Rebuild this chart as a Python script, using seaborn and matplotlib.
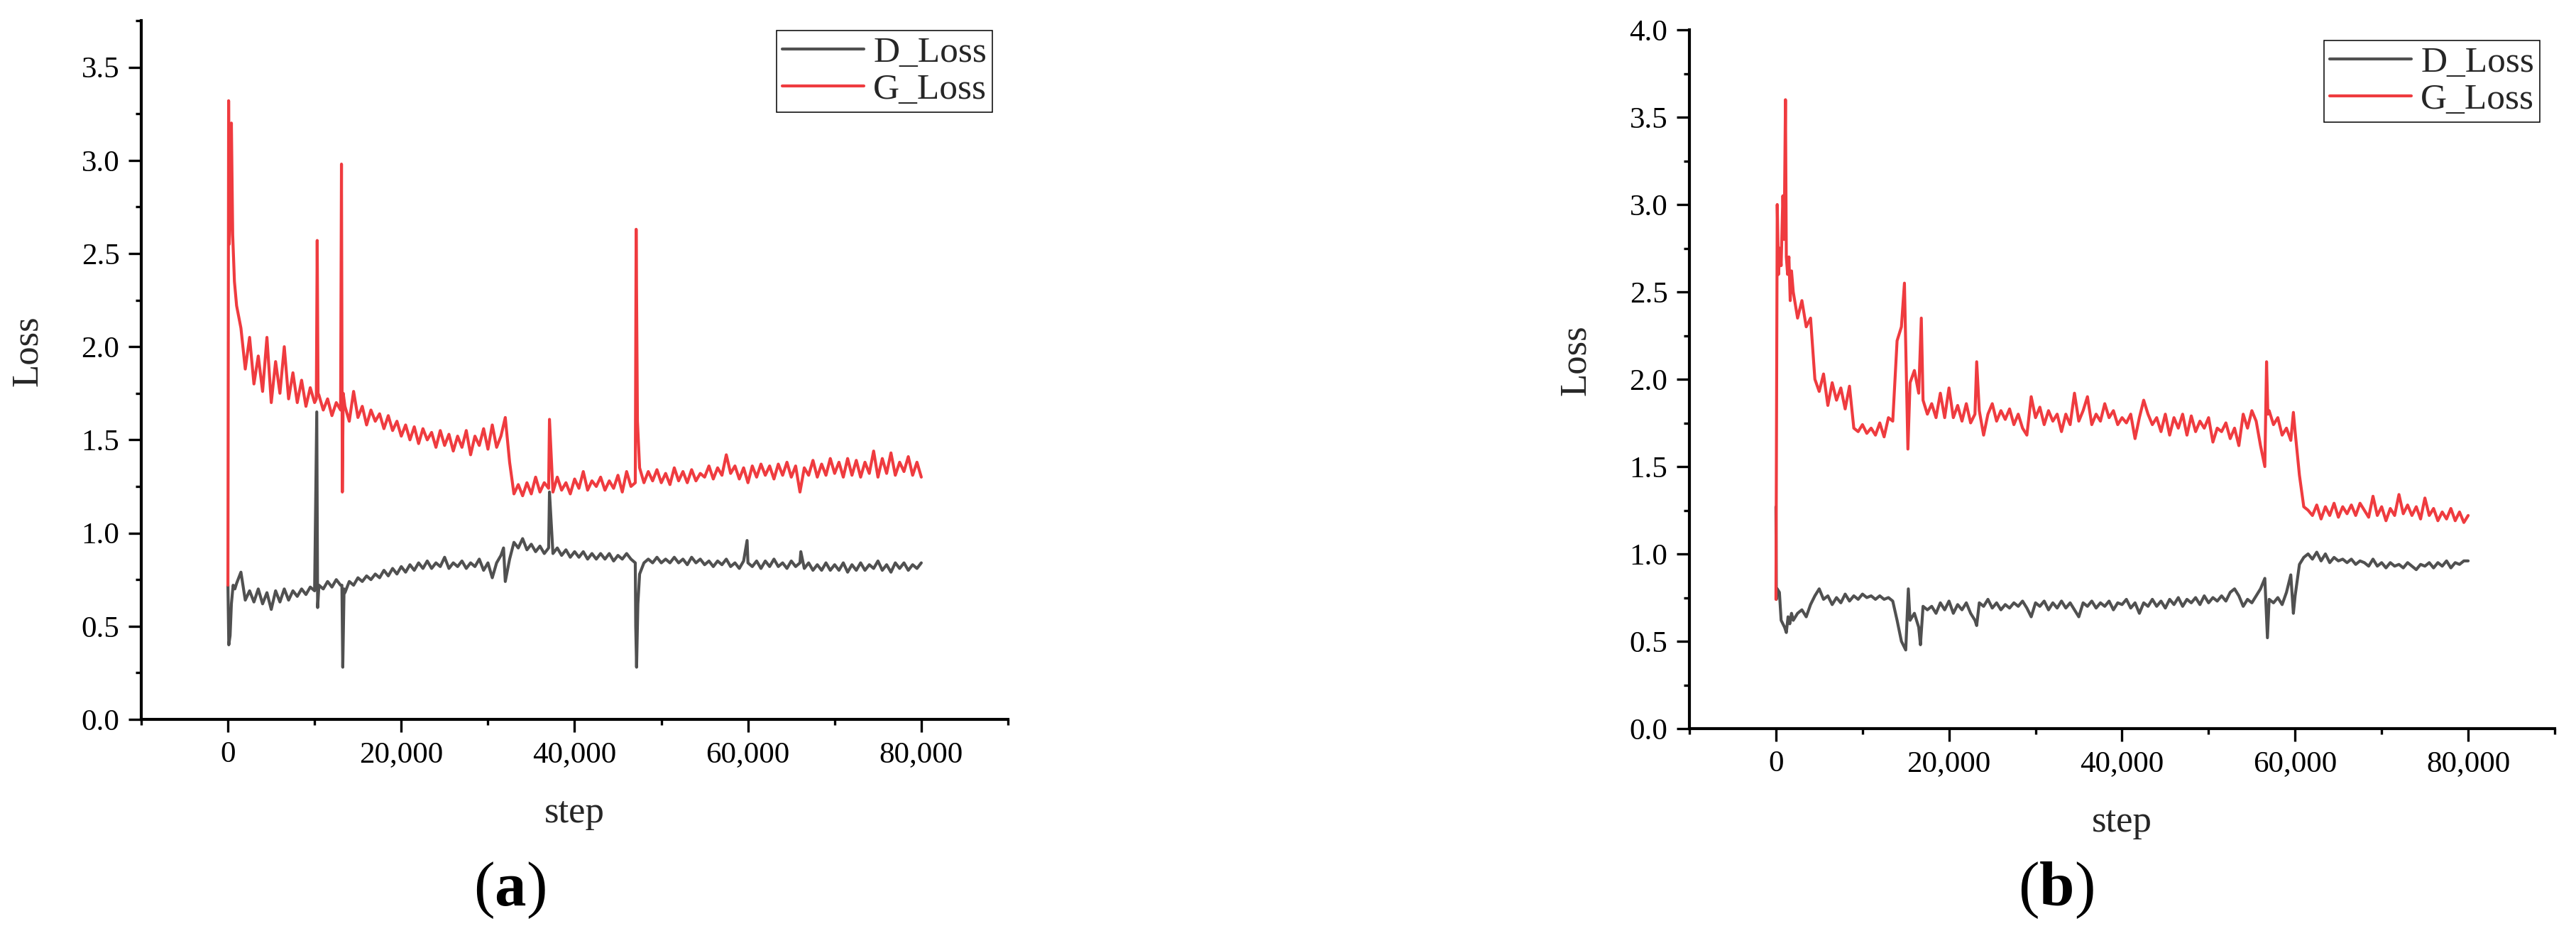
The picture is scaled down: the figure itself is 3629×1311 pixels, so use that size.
import numpy as np
import pandas as pd
import matplotlib
matplotlib.use("Agg")
import matplotlib.pyplot as plt
from matplotlib.lines import Line2D
from matplotlib.ticker import MultipleLocator, FuncFormatter
import seaborn as sns

# ---------------- data ----------------
SERIES = ["D_Loss", "G_Loss"]
COLORS = {"D_Loss": "#505050", "G_Loss": "#ef3b3f"}
PANEL_LABELS = ["a", "b"]
X_TICKS = [0, 20000, 40000, 60000, 80000]

# ----- panel (a) -----
a_grid_start = 1000   # regular 500-step samples from here to 80,000
a_G_grid = [
    2.22, 2.10, 1.88, 2.05, 1.80, 1.95, 1.76, 2.05, 1.70, 1.92,
    1.75, 2.00, 1.72, 1.86, 1.70, 1.82, 1.68, 1.78, 1.70, 1.74,
    1.66, 1.72, 1.63, 1.70, 1.66, 1.68, 1.60, 1.76, 1.62, 1.68,
    1.58, 1.66, 1.60, 1.64, 1.56, 1.63, 1.55, 1.60, 1.52, 1.58,
    1.50, 1.57, 1.48, 1.56, 1.50, 1.54, 1.46, 1.55, 1.47, 1.53,
    1.44, 1.52, 1.46, 1.55, 1.42, 1.52, 1.47, 1.56, 1.45, 1.58,
    1.46, 1.52, 1.62, 1.38, 1.21, 1.26, 1.20, 1.27, 1.21, 1.30,
    1.22, 1.27, 1.24, 1.22, 1.30, 1.23, 1.27, 1.21, 1.29, 1.24,
    1.33, 1.23, 1.28, 1.25, 1.30, 1.23, 1.28, 1.24, 1.31, 1.22,
    1.33, 1.25, 1.27, 1.35, 1.27, 1.33, 1.28, 1.34, 1.27, 1.32,
    1.26, 1.35, 1.28, 1.33, 1.27, 1.34, 1.28, 1.32, 1.30, 1.36,
    1.29, 1.35, 1.31, 1.42, 1.32, 1.36, 1.29, 1.35, 1.27, 1.36,
    1.30, 1.37, 1.31, 1.36, 1.29, 1.37, 1.31, 1.38, 1.30, 1.36,
    1.22, 1.35, 1.31, 1.39, 1.30, 1.37, 1.31, 1.40, 1.32, 1.38,
    1.30, 1.40, 1.31, 1.39, 1.30, 1.38, 1.32, 1.44, 1.30, 1.40,
    1.32, 1.43, 1.31, 1.38, 1.33, 1.41, 1.31, 1.38, 1.30,
]
a_D_grid = [
    0.73, 0.79, 0.64, 0.69, 0.63, 0.70, 0.62, 0.68, 0.59, 0.69,
    0.63, 0.70, 0.64, 0.69, 0.66, 0.70, 0.67, 0.71, 0.69, 0.72,
    0.70, 0.74, 0.71, 0.75, 0.72, 0.68, 0.74, 0.72, 0.76, 0.74,
    0.77, 0.75, 0.78, 0.76, 0.80, 0.77, 0.81, 0.78, 0.82, 0.79,
    0.83, 0.80, 0.84, 0.81, 0.85, 0.81, 0.84, 0.82, 0.87, 0.81,
    0.84, 0.82, 0.85, 0.81, 0.84, 0.82, 0.86, 0.80, 0.84, 0.76,
    0.84, 0.88, 0.74, 0.86, 0.95, 0.92, 0.97, 0.91, 0.94, 0.90,
    0.93, 0.89, 0.92, 0.89, 0.92, 0.88, 0.91, 0.87, 0.90, 0.87,
    0.90, 0.86, 0.89, 0.86, 0.89, 0.86, 0.89, 0.85, 0.88, 0.86,
    0.89, 0.86, 0.84, 0.78, 0.84, 0.86, 0.84, 0.87, 0.84, 0.86,
    0.84, 0.87, 0.84, 0.86, 0.83, 0.87, 0.84, 0.86, 0.83, 0.85,
    0.82, 0.85, 0.83, 0.86, 0.82, 0.84, 0.81, 0.85, 0.84, 0.82,
    0.85, 0.81, 0.85, 0.82, 0.86, 0.82, 0.84, 0.81, 0.85, 0.82,
    0.84, 0.81, 0.84, 0.80, 0.83, 0.80, 0.84, 0.80, 0.83, 0.80,
    0.84, 0.79, 0.83, 0.80, 0.84, 0.80, 0.83, 0.81, 0.85, 0.80,
    0.83, 0.79, 0.84, 0.81, 0.84, 0.80, 0.83, 0.81, 0.84,
]
# start-up and spike samples (irregular steps)
a_G_extra_steps = [0, 80, 150, 250, 400, 550, 750,
                   10200, 10300, 10400, 13100, 13200, 13300,
                   37100, 47050, 47100, 47250]
a_G_extra_vals = [0.72, 3.32, 2.55, 2.70, 3.20, 2.60, 2.35,
                  1.72, 2.57, 1.75, 2.98, 1.22, 1.75,
                  1.61, 2.00, 2.63, 1.60]
a_D_extra_steps = [0, 100, 250, 400, 600, 800,
                   10250, 10350, 13150, 13250, 13400, 31800,
                   37100, 47050, 47150, 47300, 59900, 66100]
a_D_extra_vals = [0.72, 0.40, 0.45, 0.62, 0.72, 0.70,
                  1.65, 0.60, 0.72, 0.28, 0.70, 0.92,
                  1.22, 0.50, 0.28, 0.62, 0.96, 0.90]

# ----- panel (b) -----
b_grid_start = 2000
b_G_grid = [
    2.50, 2.35, 2.45, 2.30, 2.35, 2.00, 1.93, 2.03, 1.85, 1.98,
    1.88, 1.95, 1.83, 1.96, 1.72, 1.70, 1.74, 1.69, 1.72, 1.68,
    1.75, 1.67, 1.78, 1.76, 2.22, 2.30, 2.20, 1.98, 2.05, 1.92,
    1.88, 1.80, 1.86, 1.78, 1.92, 1.78, 1.95, 1.78, 1.85, 1.76,
    1.86, 1.75, 1.80, 1.82, 1.68, 1.80, 1.86, 1.76, 1.82, 1.77,
    1.83, 1.74, 1.80, 1.72, 1.68, 1.90, 1.78, 1.84, 1.74, 1.82,
    1.76, 1.80, 1.70, 1.80, 1.74, 1.92, 1.76, 1.82, 1.90, 1.74,
    1.80, 1.76, 1.86, 1.78, 1.82, 1.74, 1.78, 1.75, 1.80, 1.66,
    1.78, 1.88, 1.80, 1.74, 1.78, 1.70, 1.80, 1.68, 1.78, 1.72,
    1.80, 1.68, 1.79, 1.70, 1.76, 1.72, 1.78, 1.64, 1.72, 1.70,
    1.75, 1.66, 1.72, 1.62, 1.80, 1.72, 1.82, 1.76, 1.62, 1.50,
    1.82, 1.74, 1.78, 1.68, 1.72, 1.65, 1.70, 1.45, 1.27, 1.25,
    1.22, 1.28, 1.20, 1.27, 1.22, 1.29, 1.21, 1.27, 1.23, 1.28,
    1.22, 1.29, 1.25, 1.21, 1.33, 1.22, 1.27, 1.19, 1.26, 1.22,
    1.34, 1.23, 1.28, 1.22, 1.27, 1.20, 1.32, 1.22, 1.26, 1.19,
    1.24, 1.20, 1.26, 1.19, 1.24, 1.18, 1.22,
]
b_D_grid = [
    0.62, 0.66, 0.68, 0.64, 0.71, 0.76, 0.80, 0.74, 0.76, 0.71,
    0.75, 0.72, 0.77, 0.73, 0.76, 0.74, 0.77, 0.75, 0.76, 0.74,
    0.76, 0.74, 0.75, 0.73, 0.62, 0.50, 0.45, 0.62, 0.66, 0.58,
    0.70, 0.68, 0.70, 0.66, 0.72, 0.68, 0.73, 0.66, 0.71, 0.68,
    0.72, 0.66, 0.62, 0.72, 0.70, 0.74, 0.69, 0.72, 0.68, 0.71,
    0.69, 0.72, 0.70, 0.73, 0.69, 0.64, 0.72, 0.70, 0.73, 0.68,
    0.72, 0.69, 0.73, 0.69, 0.72, 0.68, 0.64, 0.72, 0.70, 0.73,
    0.69, 0.72, 0.70, 0.73, 0.68, 0.72, 0.71, 0.74, 0.69, 0.72,
    0.66, 0.72, 0.70, 0.74, 0.70, 0.73, 0.69, 0.74, 0.71, 0.75,
    0.70, 0.74, 0.72, 0.75, 0.71, 0.76, 0.72, 0.75, 0.73, 0.76,
    0.73, 0.78, 0.80, 0.76, 0.70, 0.74, 0.72, 0.76, 0.80, 0.86,
    0.74, 0.72, 0.75, 0.71, 0.78, 0.88, 0.76, 0.94, 0.98, 1.00,
    0.97, 1.01, 0.96, 1.00, 0.95, 0.98, 0.96, 0.97, 0.95, 0.97,
    0.94, 0.96, 0.95, 0.93, 0.97, 0.93, 0.95, 0.92, 0.95, 0.93,
    0.94, 0.92, 0.95, 0.93, 0.91, 0.94, 0.93, 0.95, 0.92, 0.95,
    0.93, 0.96, 0.92, 0.95, 0.94, 0.96, 0.96,
]
b_G_extra_steps = [0, 150, 300, 450, 600, 800, 950, 1100, 1200, 1350, 1500, 1650, 1800,
                   14850, 15250, 16800, 23200, 56700, 56850, 59800]
b_G_extra_vals = [0.74, 3.00, 2.60, 2.75, 2.65, 3.05, 2.80, 3.60, 2.70, 2.60, 2.70, 2.45, 2.62,
                  2.55, 1.60, 2.35, 2.10, 2.10, 1.80, 1.81]
b_D_extra_steps = [0, 50, 150, 400, 600, 800, 1000, 1200, 1400, 1600, 1800,
                   15300, 16700, 23200, 56800, 59800]
b_D_extra_vals = [1.27, 0.74, 0.80, 0.78, 0.62, 0.60, 0.58, 0.55, 0.64, 0.60, 0.66,
                  0.80, 0.48, 0.59, 0.52, 0.66]


def build(panel, series, grid_start, grid_vals, extra_steps, extra_vals):
    grid_steps = np.arange(grid_start, 80001, 500)
    assert len(grid_steps) == len(grid_vals), (panel, series, len(grid_vals))
    steps = np.concatenate([grid_steps, np.asarray(extra_steps)])
    vals = np.concatenate([np.asarray(grid_vals), np.asarray(extra_vals)])
    return pd.DataFrame({"step": steps, "Loss": vals, "series": series, "panel": panel})


df = pd.concat([
    build("a", "D_Loss", a_grid_start, a_D_grid, a_D_extra_steps, a_D_extra_vals),
    build("a", "G_Loss", a_grid_start, a_G_grid, a_G_extra_steps, a_G_extra_vals),
    build("b", "D_Loss", b_grid_start, b_D_grid, b_D_extra_steps, b_D_extra_vals),
    build("b", "G_Loss", b_grid_start, b_G_grid, b_G_extra_steps, b_G_extra_vals),
], ignore_index=True)

# ---------------- styling ----------------
sns.set_style("ticks")
plt.rcParams["font.family"] = ["Liberation Serif", "DejaVu Serif"]
plt.rcParams["mathtext.fontset"] = "custom"
plt.rcParams["mathtext.rm"] = "Liberation Serif"
plt.rcParams["mathtext.bf"] = "Liberation Serif:bold"

W, H, DPI = 3630, 1311, 100
fig = plt.figure(figsize=(W / DPI, H / DPI), dpi=DPI)
fig.patch.set_facecolor("white")


def px_axes(left, right, bottom, top):
    return fig.add_axes([left / W, 1 - bottom / H, (right - left) / W, (bottom - top) / H])


layout = {
    "a": dict(box=(199, 1420, 1013, 29), ymax=3.75, leg=(1398, 43), cap_x=718),
    "b": dict(box=(2380, 3599, 1026, 42), ymax=4.0, leg=(3578, 57), cap_x=2896),
}

for p in PANEL_LABELS:
    cfg = layout[p]
    ax = px_axes(*cfg["box"])
    sub = df[df["panel"] == p]
    sns.lineplot(data=sub, x="step", y="Loss", hue="series", hue_order=SERIES,
                 palette=COLORS, estimator=None, sort=True, linewidth=3.0,
                 legend=False, ax=ax)
    ax.set_xlim(-10000, 90000)
    ax.set_ylim(0, cfg["ymax"])
    ax.set_xticks(X_TICKS)
    ax.xaxis.set_minor_locator(MultipleLocator(10000))
    ax.yaxis.set_major_locator(MultipleLocator(0.5))
    ax.yaxis.set_minor_locator(MultipleLocator(0.25))
    ax.xaxis.set_major_formatter(FuncFormatter(lambda v, pos: f"{v:,.0f}"))
    ax.yaxis.set_major_formatter(FuncFormatter(lambda v, pos: f"{v:.1f}"))
    sns.despine(ax=ax)
    for s in ("left", "bottom"):
        ax.spines[s].set_linewidth(3.0)
        ax.spines[s].set_color("black")
    ax.tick_params(which="major", direction="out", length=13, width=2.4,
                   labelsize=31, pad=9, color="black", labelcolor="black")
    ax.tick_params(which="minor", direction="out", length=6, width=2.4, color="black")
    ax.set_xlabel("step", fontsize=38)
    ax.set_ylabel("Loss", fontsize=38)
    ax.xaxis.label.set_va("baseline")
    ax.xaxis.set_label_coords(0.5, -145 / 984)
    ax.yaxis.label.set_va("center")
    ax.yaxis.set_label_coords(-0.131, 0.527)
    ax.grid(False)

    handles = [Line2D([], [], color=COLORS[s], lw=3.0, solid_capstyle="round") for s in SERIES]
    lx, ly = cfg["leg"]
    leg = ax.legend(handles, SERIES, loc="upper right",
                    bbox_to_anchor=(lx / W, 1 - ly / H), bbox_transform=fig.transFigure,
                    borderaxespad=0, fontsize=37, frameon=True, fancybox=False,
                    edgecolor="black", handlelength=2.25, handletextpad=0.25,
                    borderpad=0.15, labelspacing=0.1)
    leg.get_frame().set_linewidth(1.1)
    leg.get_frame().set_alpha(1)

    fig.text(cfg["cap_x"] / W, 1 - 1275 / H, r"($\mathbf{" + p + r"}$)",
             ha="center", va="baseline", fontsize=64, color="black")

fig.savefig("out.png", dpi=DPI, facecolor="white")
